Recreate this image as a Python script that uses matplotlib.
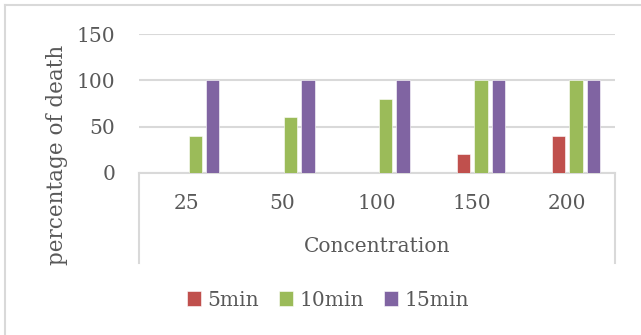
import matplotlib
matplotlib.use("Agg")
import matplotlib.pyplot as plt
from matplotlib.lines import Line2D
import numpy as np

# mortality (%) by concentration and exposure time
concentrations = ["25", "50", "100", "150", "200"]
series_names = ["5min", "10min", "15min"]
death_5min = [0, 0, 0, 20, 40]
death_10min = [40, 60, 80, 100, 100]
death_15min = [100, 100, 100, 100, 100]
series_values = [death_5min, death_10min, death_15min]
colors = ["#C0504D", "#9BBB59", "#8064A2"]

TEXT = "#595959"
GRID = "#D9D9D9"
plt.rcParams["font.family"] = ["DejaVu Serif"]

W, H = 641, 335
fig = plt.figure(figsize=(W / 100, H / 100), dpi=100)
fig.patch.set_facecolor("white")

left, right, top, zero = 139, 615, 34, 173
ax = fig.add_axes([left / W, (H - zero) / H, (right - left) / W, (zero - top) / H])

x = np.arange(len(concentrations))
step, width = 0.183, 0.142
for i, (name, vals, c) in enumerate(zip(series_names, series_values, colors)):
    ax.bar(x + (i - 0.5) * step, vals, width, color=c, label=name,
           edgecolor="white", linewidth=0.4, zorder=3)

ax.set_xlim(-0.5, len(concentrations) - 0.5)
ax.set_ylim(0, 150)
ax.set_yticks([0, 50, 100, 150])
ax.set_xticks(x)
ax.set_xticklabels(concentrations)
ax.grid(axis="y", color=GRID, linewidth=1.5, zorder=0)
for s in ["top", "right", "left"]:
    ax.spines[s].set_visible(False)
ax.spines["bottom"].set_color(GRID)
ax.spines["bottom"].set_linewidth(1.5)
ax.tick_params(length=0, labelsize=14.5, labelcolor=TEXT)
ax.tick_params(axis="y", pad=17)
ax.tick_params(axis="x", pad=15)

# category axis box edges below the plot
for px in (left, right):
    fig.add_artist(Line2D([px / W, px / W], [(H - zero) / H, (H - 263) / H],
                          color=GRID, linewidth=1.5))

# outer chart border
fig.add_artist(Line2D([4.5 / W, 4.5 / W], [0, (H - 5) / H], color=GRID, linewidth=1.5))
fig.add_artist(Line2D([4.5 / W, 1], [(H - 5) / H, (H - 5) / H], color=GRID, linewidth=1.5))

fig.text(377 / W, (H - 247) / H, "Concentration", ha="center", va="center",
         fontsize=14.5, color=TEXT)
fig.text(57 / W, (H - 155) / H, "percentage of death", ha="center", va="center",
         rotation=90, fontsize=15.5, color=TEXT)

fig.legend(loc="center", bbox_to_anchor=(328 / W, (H - 300) / H), ncol=3,
           frameon=False, prop={"family": "DejaVu Serif", "size": 14.5},
           labelcolor=TEXT, handlelength=0.7, handleheight=0.7,
           handletextpad=0.3, columnspacing=1.0)

fig.savefig("out.png", dpi=100, facecolor="white")
